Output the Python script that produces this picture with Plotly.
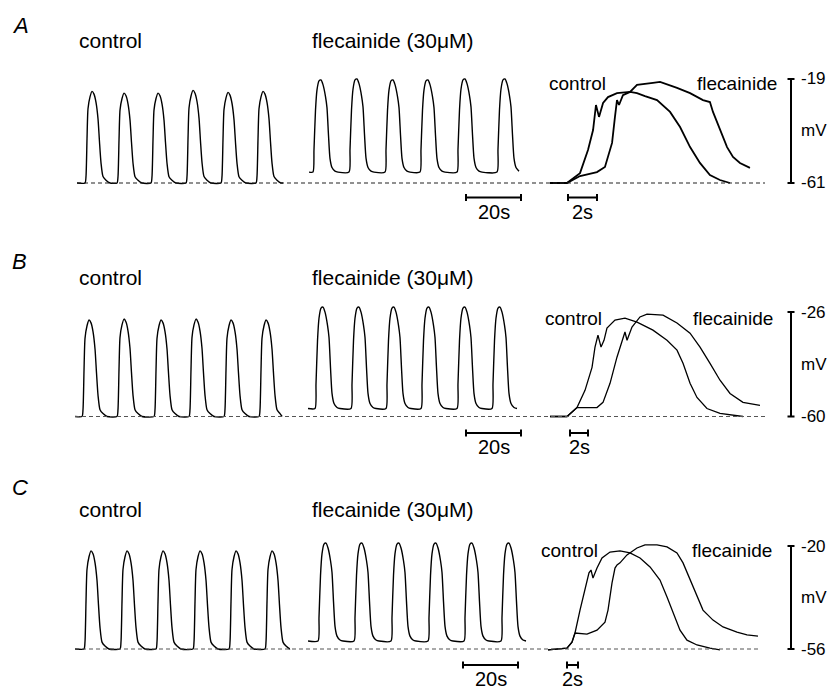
import plotly.graph_objects as go

# ------------------------------------------------------------------ data
# one slow-wave cycle read from the trains (time after onset in s, fraction of trough->peak)
CTRL_TMPL_T = [0, 0.36, 0.73, 1.09, 1.82, 2.55, 3.27, 4.0, 4.73, 5.27, 5.82, 6.55, 7.64, 9.09]
CTRL_TMPL_F = [0, 0.07, 0.48, 0.81, 0.94, 1.0, 0.97, 0.88, 0.70, 0.45, 0.22, 0.07, 0.03, 0]
FLEC_TMPL_T = [0, 0.36, 0.91, 1.45, 2.18, 2.91, 3.64, 4.55, 5.09, 5.64, 6.18, 6.91, 8.0, 9.09]
FLEC_TMPL_F = [0, 0.24, 0.67, 0.89, 0.99, 1.0, 0.95, 0.82, 0.70, 0.40, 0.15, 0.05, 0.01, 0]

# panel A trains (s, mV)
A_CTRL_ONSETS = [2.91, 14.55, 26.91, 39.64, 52.36, 65.09]
A_CTRL_PEAKS = [-24.0, -24.7, -24.7, -23.6, -24.4, -24.0]
A_CTRL_TROUGH = -61.0
A_CTRL_END = 74.9
A_FLEC_ONSETS = [1.45, 14.55, 27.64, 40.36, 53.82, 68.36]
A_FLEC_PEAKS = [-19.4, -19.0, -19.4, -19.4, -19.0, -19.0]
A_FLEC_TROUGH = -56.6
A_FLEC_END = 76.7

# panel B trains
B_CTRL_ONSETS = [2.55, 15.27, 28.73, 41.45, 54.18, 66.91]
B_CTRL_PEAKS = [-28.6, -28.3, -28.6, -28.3, -28.6, -28.6]
B_CTRL_TROUGH = -60.0
B_CTRL_END = 75.3
B_FLEC_ONSETS = [2.55, 15.64, 28.36, 41.09, 54.18, 66.91]
B_FLEC_PEAKS = [-24.4, -24.4, -24.4, -24.4, -24.4, -24.4]
B_FLEC_TROUGH = -57.4
B_FLEC_END = 76.0

# panel C trains
C_CTRL_ONSETS = [3.27, 16.36, 29.45, 42.91, 56.0, 69.09]
C_CTRL_PEAKS = [-21.7, -21.7, -21.7, -21.7, -21.7, -21.7]
C_CTRL_TROUGH = -56.0
C_CTRL_END = 78.2
C_FLEC_ONSETS = [3.64, 16.73, 30.18, 43.64, 56.73, 70.18]
C_FLEC_PEAKS = [-19.0, -19.0, -19.0, -19.0, -19.0, -19.0]
C_FLEC_TROUGH = -53.2
C_FLEC_END = 86.2

# superimposed single waves (s, mV)
A_OV_CTRL_T = [0, 1.17, 2.07, 2.62, 2.97, 3.17, 3.38, 3.66, 4.0, 4.62, 5.52, 6.0, 6.55, 7.38, 8.28, 8.97, 9.66, 10.34, 11.03, 11.72, 12.41]
A_OV_CTRL_V = [-61, -61, -57.0, -47.7, -39.6, -29.5, -34.3, -28.7, -26.3, -24.7, -24.2, -24.7, -25.9, -27.5, -32.3, -38.4, -46.5, -52.9, -57.8, -59.8, -61]
A_OV_FLEC_T = [0, 1.17, 2.07, 3.24, 3.79, 4.28, 4.48, 4.62, 4.76, 5.03, 5.52, 6.0, 7.1, 7.59, 8.76, 9.66, 10.55, 11.03, 11.24, 11.72, 12.21, 12.62, 13.1, 13.79]
A_OV_FLEC_V = [-61, -61, -58.2, -56.6, -54.5, -44.8, -34.3, -27.5, -29.5, -25.5, -24.2, -21.4, -20.6, -20.2, -22.6, -24.7, -27.5, -28.3, -32.3, -39.6, -46.5, -50.5, -52.9, -54.9]

B_OV_CTRL_T = [0, 1.89, 3.0, 3.89, 4.67, 5.0, 5.33, 5.67, 6.0, 6.33, 7.22, 8.33, 9.67, 11.44, 13.0, 14.11, 14.78, 15.56, 16.33, 17.44, 18.89, 21.44]
B_OV_CTRL_V = [-60, -60, -57.1, -51.5, -44.0, -37.4, -33.5, -37.4, -35.2, -31.2, -28.6, -28.0, -29.3, -31.9, -35.2, -38.4, -42.7, -49.2, -53.8, -57.4, -59.0, -60]
B_OV_FLEC_T = [0, 1.89, 3.0, 5.22, 5.89, 6.67, 7.44, 8.0, 8.33, 8.56, 9.11, 10.0, 10.78, 12.56, 14.11, 15.56, 16.67, 17.78, 18.89, 20.0, 21.44, 23.33]
B_OV_FLEC_V = [-60, -60, -57.1, -57.1, -55.4, -49.2, -40.7, -35.8, -32.5, -35.2, -30.9, -27.6, -26.7, -27.0, -29.6, -32.9, -37.4, -42.7, -48.2, -52.5, -55.4, -56.4]

C_OV_CTRL_T = [0, 3.45, 4.36, 4.91, 5.82, 6.73, 7.45, 7.82, 8.18, 8.91, 9.82, 11.27, 13.09, 14.91, 16.73, 18.55, 20.36, 21.64, 22.73, 24.0, 25.27, 27.09, 29.45, 31.27]
C_OV_CTRL_V = [-56.3, -55.7, -53.6, -50.4, -42.4, -35.4, -29.4, -28.4, -31.2, -27.7, -24.2, -22.1, -21.7, -22.4, -24.2, -27.3, -31.9, -37.8, -43.4, -49.4, -52.9, -54.6, -55.7, -56.3]
C_OV_FLEC_T = [0, 3.45, 4.36, 4.91, 7.09, 8.91, 10.36, 10.91, 11.64, 12.18, 12.55, 13.09, 14.36, 16.18, 17.64, 19.82, 21.64, 23.45, 24.55, 25.82, 27.09, 28.18, 30.0, 31.82, 34.36, 36.18, 38.18]
C_OV_FLEC_V = [-56.3, -55.7, -53.6, -50.4, -50.8, -49.4, -46.6, -42.4, -32.9, -27.7, -26.6, -25.9, -23.1, -20.7, -19.6, -19.6, -20.3, -22.4, -25.9, -31.9, -37.8, -42.4, -45.9, -48.3, -50.1, -51.1, -51.5]

# calibration bars
BAR_TOP_MV = [-19, -26, -20]
BAR_BOTTOM_MV = [-61, -60, -56]
TRAIN_BAR_S = 20
OVERLAY_BAR_S = 2
PANEL_LABELS = ["A", "B", "C"]
TITLE_CTRL = "control"
TITLE_FLEC = "flecainide (30\u03bcM)"
OV_LABEL_CTRL = "control"
OV_LABEL_FLEC = "flecainide"

# ------------------------------------------------------------------ layout geometry (pixels)
W, H = 831, 690
FONT = "Liberation Sans, Arial, Helvetica, sans-serif"
TRAIN_PPS = 2.75  # px per s of the trains

panels = [
    dict(base=183.0, top=79.0, ctrl_x0=77, flec_x0=309, ov_x0=550, ov_pps=14.5,
         bar_y=197.5, bar20_x=466, bar2_x=568, dash_x0=77, dash_x1=765, dash_col="#222",
         letter_y=25, title_y=40, ovlab_y=83, ov_lw=1.8, ovlab_ctrl_x=549, ovlab_flec_x=697),
    dict(base=416.5, top=312.0, ctrl_x0=75, flec_x0=308, ov_x0=550, ov_pps=9.0,
         bar_y=433, bar20_x=466, bar2_x=570, dash_x0=75, dash_x1=765, dash_col="#555",
         letter_y=262, title_y=277, ovlab_y=318, ov_lw=1.3, ovlab_ctrl_x=545, ovlab_flec_x=693),
    dict(base=649.0, top=546.0, ctrl_x0=75, flec_x0=308, ov_x0=548, ov_pps=5.5,
         bar_y=665, bar20_x=463, bar2_x=567, dash_x0=75, dash_x1=760, dash_col="#555",
         letter_y=487, title_y=510, ovlab_y=550, ov_lw=1.3, ovlab_ctrl_x=541, ovlab_flec_x=692),
]

trains = [
    [(A_CTRL_ONSETS, A_CTRL_PEAKS, A_CTRL_TROUGH, A_CTRL_END),
     (A_FLEC_ONSETS, A_FLEC_PEAKS, A_FLEC_TROUGH, A_FLEC_END)],
    [(B_CTRL_ONSETS, B_CTRL_PEAKS, B_CTRL_TROUGH, B_CTRL_END),
     (B_FLEC_ONSETS, B_FLEC_PEAKS, B_FLEC_TROUGH, B_FLEC_END)],
    [(C_CTRL_ONSETS, C_CTRL_PEAKS, C_CTRL_TROUGH, C_CTRL_END),
     (C_FLEC_ONSETS, C_FLEC_PEAKS, C_FLEC_TROUGH, C_FLEC_END)],
]
overlays = [
    (A_OV_CTRL_T, A_OV_CTRL_V, A_OV_FLEC_T, A_OV_FLEC_V),
    (B_OV_CTRL_T, B_OV_CTRL_V, B_OV_FLEC_T, B_OV_FLEC_V),
    (C_OV_CTRL_T, C_OV_CTRL_V, C_OV_FLEC_T, C_OV_FLEC_V),
]


def px_x(p):
    return p / W


def px_y(p):
    return 1 - p / H


def build_train(onsets, peaks, trough, end, tt, tf, close_at_end):
    ts, vs = [0.0], [trough]
    for on, pk in zip(onsets, peaks):
        for dt, f in zip(tt, tf):
            t = on + dt
            if t > end:
                break
            ts.append(t)
            vs.append(trough + f * (pk - trough))
    if close_at_end and ts[-1] < end:
        ts.append(end)
        vs.append(trough)
    return ts, vs


def text(txt, x, y, size, xanchor="left", xref="paper", yref="paper"):
    return dict(text=txt, xref=xref, yref=yref, x=x, y=y, xanchor=xanchor, yanchor="middle",
                showarrow=False, borderpad=0, borderwidth=0, font=dict(size=size, family=FONT))


fig = go.Figure()
layout = dict(width=W, height=H, margin=dict(l=0, r=0, t=0, b=0),
              paper_bgcolor="white", plot_bgcolor="rgba(0,0,0,0)",
              showlegend=False, font=dict(family=FONT, color="black"))
shapes, annotations = [], []
TRAIN_W = 240
OV_W = 245

for i, p in enumerate(panels):
    ysuf = "" if i == 0 else str(i + 1)
    yname = "y" + ysuf
    ppm = (p["base"] - p["top"]) / (BAR_TOP_MV[i] - BAR_BOTTOM_MV[i])
    ytop_px, ybot_px = p["top"] - 30, p["base"] + 12
    layout["yaxis" + ysuf] = dict(
        visible=False, fixedrange=True,
        domain=[px_y(ybot_px), px_y(ytop_px)],
        range=[BAR_BOTTOM_MV[i] - 12 / ppm, BAR_TOP_MV[i] + 30 / ppm],
        anchor="x" + ("" if i == 0 else str(3 * i + 1)))
    xspecs = [(p["ctrl_x0"], TRAIN_W, TRAIN_PPS), (p["flec_x0"], TRAIN_W, TRAIN_PPS),
              (p["ov_x0"], OV_W, p["ov_pps"])]
    xnames = []
    for k, (x0, wpx, pps) in enumerate(xspecs):
        n = 3 * i + k + 1
        xs = "" if n == 1 else str(n)
        layout["xaxis" + xs] = dict(visible=False, fixedrange=True,
                                   domain=[px_x(x0), px_x(x0 + wpx)],
                                   range=[0, wpx / pps], anchor=yname)
        xnames.append("x" + xs)

    # trains
    for k, (on, pk, tr, end) in enumerate(trains[i]):
        tt, tf = (CTRL_TMPL_T, CTRL_TMPL_F) if k == 0 else (FLEC_TMPL_T, FLEC_TMPL_F)
        ts, vs = build_train(on, pk, tr, end, tt, tf, close_at_end=(k == 0))
        fig.add_trace(go.Scatter(x=ts, y=vs, mode="lines", xaxis=xnames[k], yaxis=yname,
                                 line=dict(color="black", width=1.4, shape="spline", smoothing=0.6),
                                 hoverinfo="skip"))
    # overlays
    ct, cv, ft, fv = overlays[i]
    for tx, vy in ((ct, cv), (ft, fv)):
        fig.add_trace(go.Scatter(x=tx, y=vy, mode="lines", xaxis=xnames[2], yaxis=yname,
                                 line=dict(color="black", width=p["ov_lw"]), hoverinfo="skip"))

    # dashed baseline
    shapes.append(dict(type="line", xref="paper", yref=yname,
                       x0=px_x(p["dash_x0"]), x1=px_x(p["dash_x1"]),
                       y0=BAR_BOTTOM_MV[i], y1=BAR_BOTTOM_MV[i],
                       line=dict(color=p["dash_col"], width=1.2, dash="4px,3px")))
    # time bars
    for xn, x0px, xorig, pps, dur, lab in ((xnames[1], p["bar20_x"], p["flec_x0"], TRAIN_PPS, TRAIN_BAR_S, "20s"),
                                           (xnames[2], p["bar2_x"], p["ov_x0"], p["ov_pps"], OVERLAY_BAR_S, "2s")):
        t0 = (x0px - xorig) / pps
        by = p["bar_y"]
        shapes.append(dict(type="line", xref=xn, yref="paper", x0=t0, x1=t0 + dur,
                           y0=px_y(by), y1=px_y(by), line=dict(color="black", width=2)))
        for tx in (t0, t0 + dur):
            shapes.append(dict(type="line", xref=xn, yref="paper", x0=tx, x1=tx,
                               y0=px_y(by - 3.5), y1=px_y(by + 3.5),
                               line=dict(color="black", width=2)))
        annotations.append(text(lab, t0 + dur / 2, px_y(by + 14), 20, xanchor="center", xref=xn))
    # mV bar
    shapes.append(dict(type="line", xref="paper", yref=yname, x0=px_x(791), x1=px_x(791),
                       y0=BAR_BOTTOM_MV[i], y1=BAR_TOP_MV[i], line=dict(color="black", width=2)))
    for v in (BAR_BOTTOM_MV[i], BAR_TOP_MV[i]):
        shapes.append(dict(type="line", xref="paper", yref=yname, x0=px_x(787.5), x1=px_x(794.5),
                           y0=v, y1=v, line=dict(color="black", width=2)))
    for v, lab in ((BAR_TOP_MV[i], str(BAR_TOP_MV[i])),
                   ((BAR_TOP_MV[i] + BAR_BOTTOM_MV[i]) / 2, "mV"),
                   (BAR_BOTTOM_MV[i], str(BAR_BOTTOM_MV[i]))):
        annotations.append(text(lab, px_x(801), v, 17, yref=yname))
    # texts
    annotations.append(text("<i>%s</i>" % PANEL_LABELS[i], px_x(12), px_y(p["letter_y"]), 22))
    annotations.append(text(TITLE_CTRL, px_x(79), px_y(p["title_y"]), 21))
    annotations.append(text(TITLE_FLEC, px_x(312), px_y(p["title_y"]), 21))
    annotations.append(text(OV_LABEL_CTRL, px_x(p["ovlab_ctrl_x"]), px_y(p["ovlab_y"]), 19))
    annotations.append(text(OV_LABEL_FLEC, px_x(p["ovlab_flec_x"]), px_y(p["ovlab_y"]), 19))

layout["shapes"] = shapes
layout["annotations"] = annotations
fig.update_layout(**layout)
# remove the default page margin so the 831x690 figure fills the window exactly
fig.write_html("out.html", config={"displayModeBar": False, "staticPlot": True},
               post_script="document.body.style.margin='0';document.body.style.overflow='hidden';")
